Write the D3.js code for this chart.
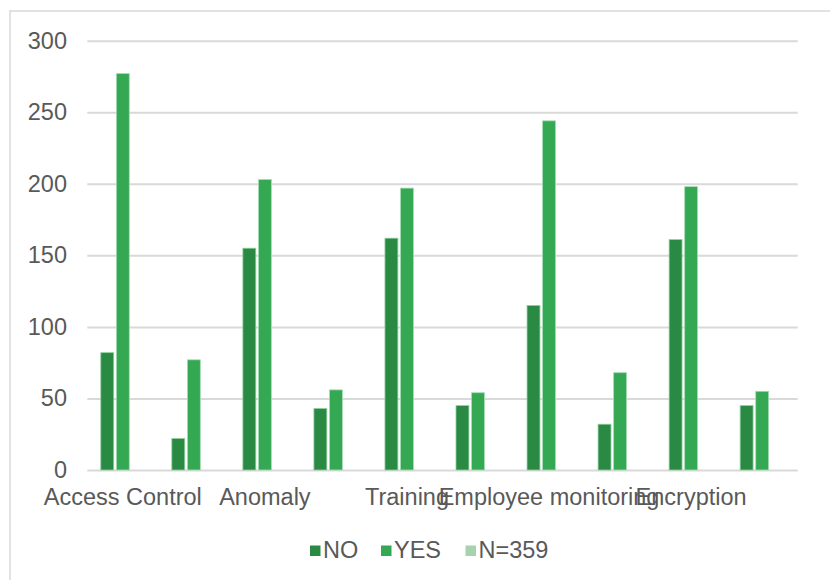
<!DOCTYPE html>
<html>
<head>
<meta charset="utf-8">
<script src="https://cdn.jsdelivr.net/npm/d3@7"></script>
<style>
  html, body { margin: 0; padding: 0; background: #ffffff; }
  svg { display: block; }
  text { font-family: "Liberation Sans", Arial, sans-serif; fill: #595959; }
</style>
</head>
<body>
<svg id="chart" width="830" height="580"></svg>
<script>
// Category labels (every other category is left unlabeled on the axis)
const categories = ["Access Control", "", "Anomaly", "", "Training", "", "Employee monitoring", "", "Encryption", ""];
// Series
const seriesNames = ["NO", "YES", "N=359"];
const noValues  = [82, 22, 155, 43, 162, 45, 115, 32, 161, 45];
const yesValues = [277, 77, 203, 56, 197, 54, 244, 68, 198, 55];
const nValues   = [null, null, null, null, null, null, null, null, null, null];
const yTicks = [0, 50, 100, 150, 200, 250, 300];

const colors = { "NO": "#2a8a43", "YES": "#35a853", "N=359": "#a4d3ad" };
const outline = { "NO": "#8fd0a0", "YES": "#a6dcb5", "N=359": "#d8eedd" };

const svg = d3.select("#chart");
const W = 830, H = 580;
const plot = { left: 87.3, right: 797.7, top: 40.7, bottom: 470 };
const fontSize = 23.5;

// Outer chart frame
svg.append("rect")
  .attr("x", 10).attr("y", 11)
  .attr("width", W + 20).attr("height", H + 20)
  .attr("fill", "none").attr("stroke", "#d9d9d9").attr("stroke-width", 1.5);

const x0 = d3.scaleBand()
  .domain(d3.range(categories.length))
  .range([plot.left, plot.right])
  .paddingInner(0.38)
  .paddingOuter(0.19);

const x1 = d3.scaleBand()
  .domain(seriesNames)
  .range([0, x0.bandwidth()])
  .paddingInner(0.17);

const y = d3.scaleLinear().domain([0, 300]).range([plot.bottom, plot.top]);

// Horizontal gridlines
const grid = svg.append("g")
  .attr("transform", `translate(${plot.left},0)`)
  .call(d3.axisLeft(y).tickValues(yTicks).tickSize(-(plot.right - plot.left)).tickFormat(""));
grid.select(".domain").remove();
grid.selectAll(".tick line").attr("stroke", "#d9d9d9").attr("stroke-width", 2);

// Y-axis labels
const yAxis = svg.append("g")
  .attr("transform", `translate(${67},0)`)
  .call(d3.axisLeft(y).tickValues(yTicks).tickSize(0).tickPadding(0));
yAxis.select(".domain").remove();
yAxis.selectAll("text")
  .attr("font-size", fontSize)
  .attr("font-family", "'Liberation Sans', Arial, sans-serif")
  .attr("fill", "#595959");

// Bars
const rows = categories.map((c, i) => ({
  i,
  values: [
    { key: "NO", v: noValues[i] },
    { key: "YES", v: yesValues[i] },
    { key: "N=359", v: nValues[i] }
  ]
}));

const groups = svg.append("g").selectAll("g")
  .data(rows).join("g")
  .attr("transform", d => `translate(${x0(d.i)},0)`);

groups.selectAll("rect")
  .data(d => d.values.filter(s => s.v != null))
  .join("rect")
  .attr("x", d => x1(d.key))
  .attr("width", x1.bandwidth())
  .attr("y", d => y(d.v))
  .attr("height", d => y(0) - y(d.v))
  .attr("fill", d => colors[d.key])
  .attr("stroke", d => outline[d.key])
  .attr("stroke-width", 0.8);

// Category axis labels
const xAxis = svg.append("g")
  .attr("transform", `translate(0,${plot.bottom})`)
  .call(d3.axisBottom(x0).tickSize(0).tickPadding(18).tickFormat(i => categories[i]));
xAxis.select(".domain").remove();
xAxis.selectAll("text")
  .attr("font-size", fontSize)
  .attr("font-family", "'Liberation Sans', Arial, sans-serif")
  .attr("fill", "#595959");

// Legend
const legendItems = [
  { key: "NO", x: 310 },
  { key: "YES", x: 381 },
  { key: "N=359", x: 465.5 }
];
const legend = svg.append("g");
legendItems.forEach(it => {
  legend.append("rect")
    .attr("x", it.x).attr("y", 545.5)
    .attr("width", 10.5).attr("height", 10.5)
    .attr("fill", colors[it.key]);
  legend.append("text")
    .attr("x", it.x + 13).attr("y", 557.5)
    .attr("font-size", fontSize)
    .text(it.key);
});
</script>
</body>
</html>
